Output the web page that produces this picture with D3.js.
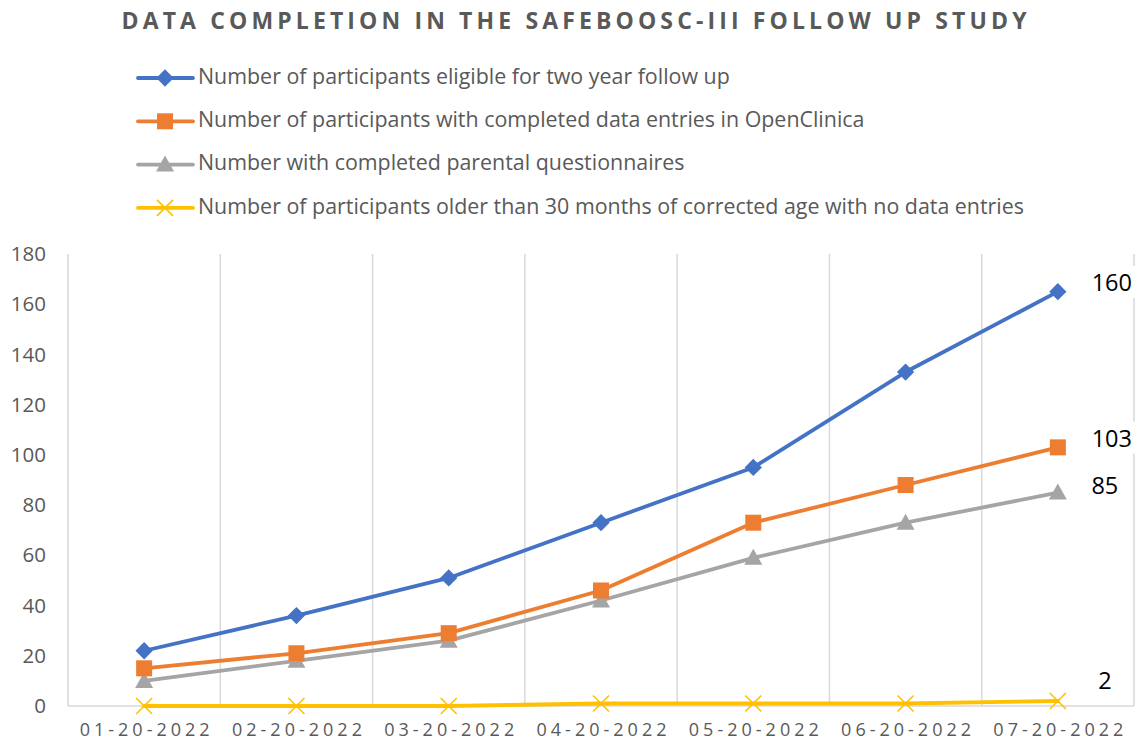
<!DOCTYPE html>
<html>
<head>
<meta charset="utf-8">
<script src="https://cdn.jsdelivr.net/npm/d3@7"></script>
<style>
  body { margin: 0; background: #fff; }
  svg { display: block; font-family: "Open Sans", "Noto Sans", sans-serif; }
</style>
</head>
<body>
<div id="chart"></div>
<script>
// data
const dates = ["01-20-2022", "02-20-2022", "03-20-2022", "04-20-2022", "05-20-2022", "06-20-2022", "07-20-2022"];
const eligible = [22, 36, 51, 73, 95, 133, 165];
const openClinica = [15, 21, 29, 46, 73, 88, 103];
const questionnaires = [10, 18, 26, 42, 59, 73, 85];
const noEntries = [0, 0, 0, 1, 1, 1, 2];
const yTicks = [0, 20, 40, 60, 80, 100, 120, 140, 160, 180];
const seriesNames = [
  "Number of participants eligible for two year follow up",
  "Number of participants with completed data entries in OpenClinica",
  "Number with completed parental questionnaires",
  "Number of participants older than 30 months of corrected age with no data entries",
];
const endLabels = ["160", "103", "85", "2"];

const series = [
  { name: seriesNames[0], values: eligible, color: "#4472C4", marker: "diamond", label: endLabels[0] },
  { name: seriesNames[1], values: openClinica, color: "#ED7D31", marker: "square", label: endLabels[1] },
  { name: seriesNames[2], values: questionnaires, color: "#A5A5A5", marker: "triangle", label: endLabels[2] },
  { name: seriesNames[3], values: noEntries, color: "#FFC000", marker: "cross", label: endLabels[3] },
];

const width = 1136, height = 742;
const plot = { left: 68, right: 1134, top: 254, bottom: 706 };

const svg = d3.select("#chart").append("svg")
  .attr("width", width).attr("height", height);

// scales
const x = d3.scalePoint().domain(dates).range([plot.left, plot.right]).padding(0.5);
const xBand = d3.scaleBand().domain(dates).range([plot.left, plot.right]);
const y = d3.scaleLinear().domain([0, 180]).range([plot.bottom, plot.top]);

// title
svg.append("text")
  .attr("x", 574).attr("y", 29)
  .attr("text-anchor", "middle")
  .attr("fill", "#595959")
  .attr("font-size", 23).attr("font-weight", "bold")
  .attr("textLength", 905).attr("lengthAdjust", "spacing")
  .text("DATA COMPLETION IN THE SAFEBOOSC-III FOLLOW UP STUDY");

// gridlines (vertical, category boundaries)
const bounds = dates.map((d) => xBand(d)).concat([plot.right]);
svg.append("g").selectAll("line").data(bounds).enter().append("line")
  .attr("x1", (d) => d).attr("x2", (d) => d)
  .attr("y1", plot.top).attr("y2", plot.bottom)
  .attr("stroke", "#d9d9d9").attr("stroke-width", 1.5);

// x axis baseline
svg.append("line")
  .attr("x1", plot.left).attr("x2", plot.right)
  .attr("y1", y(0)).attr("y2", y(0))
  .attr("stroke", "#d9d9d9").attr("stroke-width", 1.5);

// y axis labels
const yAxis = svg.append("g")
  .attr("transform", `translate(${plot.left - 22},0)`)
  .call(d3.axisLeft(y).tickValues(yTicks).tickSize(0).tickPadding(0));
yAxis.select(".domain").remove();
yAxis.selectAll("text")
  .attr("fill", "#595959").attr("font-size", 20.5)
  .attr("font-family", "Open Sans, sans-serif");

// x axis labels
const xAxis = svg.append("g")
  .attr("transform", `translate(0,${plot.bottom})`)
  .call(d3.axisBottom(x).tickSize(0).tickPadding(17));
xAxis.select(".domain").remove();
xAxis.selectAll("text")
  .attr("fill", "#595959").attr("font-size", 18)
  .attr("textLength", 130).attr("lengthAdjust", "spacing")
  .attr("font-family", "Open Sans, sans-serif");

// markers
const drawMarker = (sel, type, color) => {
  if (type === "diamond") {
    sel.append("path").attr("d", d3.symbol(d3.symbolDiamond2, 190)()).attr("fill", color);
  } else if (type === "square") {
    sel.append("rect").attr("x", -8).attr("y", -8).attr("width", 16).attr("height", 16).attr("fill", color);
  } else if (type === "triangle") {
    sel.append("path").attr("d", "M0,-9L9,7L-9,7Z").attr("fill", color);
  } else {
    sel.append("path").attr("d", "M-8,-8L8,8M-8,8L8,-8").attr("stroke", color).attr("stroke-width", 1.6).attr("fill", "none");
  }
};

const line = d3.line()
  .x((d, i) => x(dates[i]))
  .y((d) => y(d));

// draw from bottom series up so blue sits on top
series.slice().reverse().forEach((s) => {
  const g = svg.append("g");
  g.append("path")
    .datum(s.values)
    .attr("d", line)
    .attr("fill", "none")
    .attr("stroke", s.color)
    .attr("stroke-width", 3.8)
    .attr("stroke-linejoin", "round")
    .attr("stroke-linecap", "round");
  s.values.forEach((v, i) => {
    const m = g.append("g").attr("transform", `translate(${x(dates[i])},${y(v)})`);
    drawMarker(m, s.marker, s.color);
  });
});

// end labels
const labelPos = [
  { dx: 54, dy: -7 },
  { dx: 54, dy: -7 },
  { dx: 47, dy: -5 },
  { dx: 47, dy: -18 },
];
series.forEach((s, k) => {
  const last = s.values.length - 1;
  const lx = x(dates[last]) + labelPos[k].dx;
  const ly = y(s.values[last]) + labelPos[k].dy;
  const t = svg.append("text")
    .attr("x", lx).attr("y", ly)
    .attr("text-anchor", "middle")
    .attr("dominant-baseline", "middle")
    .attr("fill", "#000")
    .attr("font-size", 23.5)
    .attr("font-family", "Open Sans, sans-serif")
    .text(s.label);
  const bb = t.node().getBBox();
  svg.insert("rect", () => t.node())
    .attr("x", bb.x - 4).attr("y", bb.y)
    .attr("width", bb.width + 8).attr("height", bb.height)
    .attr("fill", "#fff");
});

// legend
const legend = svg.append("g");
series.forEach((s, k) => {
  const ly = 78 + k * 43.3;
  const g = legend.append("g").attr("transform", `translate(0,${ly})`);
  g.append("line")
    .attr("x1", 138).attr("x2", 193)
    .attr("stroke", s.color).attr("stroke-width", 3.8)
    .attr("stroke-linecap", "round");
  const m = g.append("g").attr("transform", "translate(165,0)");
  drawMarker(m, s.marker, s.color);
  g.append("text")
    .attr("x", 198).attr("y", 0)
    .attr("dominant-baseline", "middle")
    .attr("fill", "#595959")
    .attr("font-size", 21.4)
    .text(s.name);
});
</script>
</body>
</html>
